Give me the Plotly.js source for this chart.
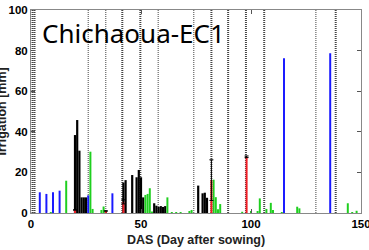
<!DOCTYPE html>
<html>
<head>
<meta charset="utf-8">
<script src="https://cdn.plot.ly/plotly-3.0.1.min.js"></script>
<style>html,body{margin:0;padding:0;background:#fff;}#chart{width:369px;height:250px;}</style>
</head>
<body>
<div id="chart"></div>
<script>
// Days after sowing (x) and irrigation amounts (mm)
var blackDays = [20,21,22,23,24,25,34,42,43,46,48,49,50,51,56,57,58,59,60,61,76,78,79,80];
var blackVals = [38.4,45.8,30.7,7.7,7.7,7.7,1.2,15,16.2,18.7,17.6,21.2,17.6,7.7,4.8,3.6,3.0,3.4,3.0,3.4,13.5,9.7,10,7.5];

var greenDays = [9,16,27,28,32,33,52,53,54,55,62,64,66,68,72,73,83,84,85,86,96,100,103,104,107,109,110,114,121,122,144,146,148];
var greenVals = [0.5,15.9,30.2,2,1.5,3.2,8.9,9.4,12.2,0.8,7.7,0.5,0.5,0.5,1,1.5,16.4,7.8,1.9,4.4,0.6,1,1,7.2,2,5,1.5,0.5,3.1,2.3,4.8,0.5,1.1];

var blueDays = [4,7,10,13,26,37,115,136];
var blueVals = [10.2,9.4,10.2,11,8.7,9.7,76.2,78.7];

var redDays = [20,34,42,82,98];
var redVals = [1.5,1.0,5.5,16.2,27.7];
var redErr  = [0,0,1,10,0.4];

// dotted vertical event lines (days)
var vlineDays  = [0.7,1.6,26,34,41.5,49.7,57.8,74,82,89.6,97.7,106,129.5,138.5];
var vlineWide  = [1,1,0,0,1,1,0,0,1,1,1,1,0,1];

var xTicks = [0,50,100,150];
var yTicks = [0,20,40,60,80,100];
var chartTitle = 'Chichaoua-EC1';
var xTitle = 'DAS (Day after sowing)';
var yTitle = 'Irrigation [mm]';

var traces = [
  {type:'bar', x:blackDays, y:blackVals, width:1.0, marker:{color:'#000000', line:{width:0}}},
  {type:'bar', x:greenDays, y:greenVals, width:0.9, marker:{color:'#1fcf1f', line:{width:0}}},
  {type:'bar', x:blueDays, y:blueVals, width:0.9, marker:{color:'#1a1aff', line:{width:0}}},
  {type:'bar', x:redDays, y:redVals, width:0.9, marker:{color:'#ee1c24', line:{width:0}},
   error_y:{type:'data', array:redErr, visible:true, color:'#000', thickness:1, width:2}}
];

var shapes = vlineDays.map(function(d,i){
  return {type:'line', xref:'x', yref:'paper', x0:d, x1:d, y0:0, y1:1,
    line:{color:'#444', width: vlineWide[i] ? 2 : 1, dash:'1px,1px'}, layer:'below'};
});

var axisFont = {family:'Liberation Sans, Arial, sans-serif', size:11.5, color:'#000', weight:'bold'};

var layout = {
  width:369, height:250,
  margin:{l:31, r:8, t:10, b:37, pad:0},
  paper_bgcolor:'#fff', plot_bgcolor:'#fff',
  showlegend:false,
  barmode:'overlay',
  shapes: shapes,
  xaxis:{range:[0,150], tickvals:xTicks, ticktext:xTicks.map(String), ticks:'inside', ticklen:4,
    tickcolor:'#555', showline:true, linecolor:'#888', linewidth:1, mirror:'ticks', showgrid:false, zeroline:false,
    tickfont:axisFont, ticklabeloverflow:'allow',
    title:{text:xTitle, font:{family:'Liberation Sans, Arial, sans-serif', size:12.5, color:'#222', weight:'bold'}, standoff:6}},
  yaxis:{range:[0,100], tickvals:yTicks, ticktext:yTicks.map(String), ticks:'inside', ticklen:4,
    tickcolor:'#555', showline:true, linecolor:'#888', linewidth:1, mirror:'ticks', showgrid:false, zeroline:false,
    tickfont:axisFont, ticklabeloverflow:'allow'},
  annotations:[
    {text:chartTitle, xref:'paper', yref:'paper', x:9/330, y:(213-33)/203, xanchor:'left', yanchor:'middle',
     showarrow:false, font:{family:'Noto Sans, Open Sans, sans-serif', size:26, color:'#000'}},
    {text:yTitle, xref:'paper', yref:'paper', x:-30/330, y:0.5, xanchor:'center', yanchor:'middle', textangle:-90,
     showarrow:false, font:{family:'Liberation Sans, Arial, sans-serif', size:12.5, color:'#222', weight:'bold'}}
  ]
};

Plotly.newPlot('chart', traces, layout, {staticPlot:true, displayModeBar:false});
</script>
</body>
</html>
